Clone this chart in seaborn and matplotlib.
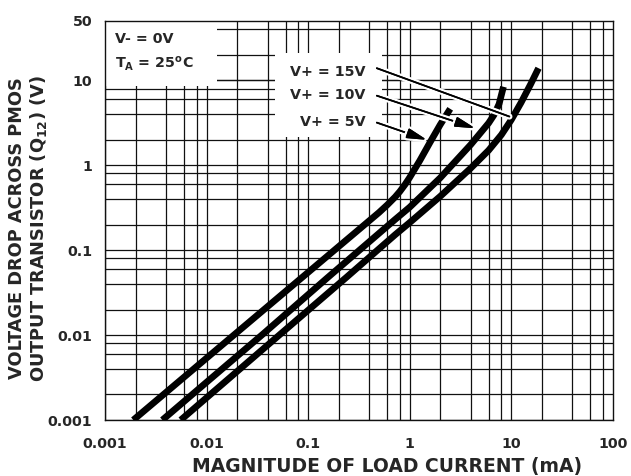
import numpy as np
import pandas as pd
import matplotlib
matplotlib.use("Agg")
import matplotlib.pyplot as plt
import matplotlib.patheffects as pe
import seaborn as sns

# ---- data ----
x_5v = [0.0019, 0.018, 0.16, 0.5, 0.6, 0.72, 0.80, 0.90, 1.0, 1.26, 1.58, 2.0, 2.51]
y_5v = [0.001, 0.0097, 0.088, 0.278, 0.340, 0.423, 0.490, 0.592, 0.716, 1.135, 1.84, 3.0, 4.62]

x_10v = [0.00367, 0.036, 0.153, 0.72, 1.0, 2.0, 4.0, 6.0, 6.8, 7.6, 8.4]
y_10v = [0.001, 0.0103, 0.0467, 0.23, 0.32, 0.71, 1.75, 3.14, 3.94, 5.26, 8.4]

x_15v = [0.00557, 0.0525, 0.24, 0.72, 1.0, 2.0, 4.0, 6.0, 8.0, 10.0, 12.5, 15.5, 18.6]
y_15v = [0.001, 0.0101, 0.0482, 0.152, 0.211, 0.43, 0.925, 1.50, 2.28, 3.41, 5.45, 8.93, 13.9]

series_names = ["V+ = 5V", "V+ = 10V", "V+ = 15V"]

x_ticks = [0.001, 0.01, 0.1, 1, 10, 100]
x_tick_labels = ["0.001", "0.01", "0.1", "1", "10", "100"]
y_ticks = [0.001, 0.01, 0.1, 1, 10, 50]
y_tick_labels = ["0.001", "0.01", "0.1", "1", "10", "50"]
minor_mult = [2, 4, 6, 8]

# label anchor (x, y) and leader line start / tip in data units
label_pos = {"V+ = 15V": (0.365, 12.7), "V+ = 10V": (0.365, 6.7), "V+ = 5V": (0.365, 3.27)}
leader_start = {"V+ = 15V": (0.475, 13.9), "V+ = 10V": (0.475, 6.6), "V+ = 5V": (0.475, 3.18)}
leader_end = {"V+ = 15V": (9.6, 3.75), "V+ = 10V": (4.42, 2.73), "V+ = 5V": (1.48, 1.99)}
leader_style = {"V+ = 15V": "-", "V+ = 10V": "-|>,head_length=1.2,head_width=0.3",
                "V+ = 5V": "-|>,head_length=1.2,head_width=0.3"}

df = pd.concat([
    pd.DataFrame({"I": x_5v, "V": y_5v, "s": series_names[0]}),
    pd.DataFrame({"I": x_10v, "V": y_10v, "s": series_names[1]}),
    pd.DataFrame({"I": x_15v, "V": y_15v, "s": series_names[2]}),
], ignore_index=True)

sns.set_style("white")
plt.rcParams["font.family"] = ["DejaVu Sans"]
plt.rcParams["font.weight"] = "bold"

fig = plt.figure(figsize=(6.31, 4.76), dpi=100)
ax = fig.add_axes([0.1664, 0.1176, 0.8046, 0.8383])
ax.set_xscale("log")
ax.set_yscale("log")
ax.set_xlim(0.001, 100)
ax.set_ylim(0.001, 50)

# grid
grid_kw = dict(color="#111111", lw=0.9, zorder=1)
for d in range(-3, 2):
    for m in [1] + minor_mult:
        ax.axvline(m * 10.0 ** d, **grid_kw)
for d in range(-3, 2):
    for m in [1] + minor_mult:
        v = m * 10.0 ** d
        if v <= 50:
            ax.axhline(v, **grid_kw)
ax.axhline(10, **grid_kw)

# white label boxes that cut the grid
ax.add_patch(plt.Rectangle((0, 0.837), 0.22, 0.163, transform=ax.transAxes,
                           facecolor="white", edgecolor="none", zorder=2))
ax.add_patch(plt.Rectangle((0.335, 0.709), 0.211, 0.211, transform=ax.transAxes,
                           facecolor="white", edgecolor="none", zorder=2))

for name in series_names:
    sub = df[df["s"] == name]
    sns.lineplot(data=sub, x="I", y="V", ax=ax, color="black", lw=4.8,
                 sort=False, estimator=None, legend=False, zorder=4,
                 solid_capstyle="butt")

for name in series_names:
    lx, ly = label_pos[name]
    ax.text(lx, ly, name, ha="right", va="center", fontsize=10.3,
            fontweight="bold", zorder=5)
    ann = ax.annotate("", xy=leader_end[name], xytext=leader_start[name],
                      arrowprops=dict(arrowstyle=leader_style[name],
                                      color="black", lw=1.2, shrinkA=0, shrinkB=0),
                      size=10, zorder=5)
    ann.arrow_patch.set_path_effects([pe.withStroke(linewidth=4.5, foreground="white"),
                                      pe.Normal()])

ax.text(0.02, 0.955, "V- = 0V", transform=ax.transAxes, ha="left", va="center",
        fontsize=10.3, fontweight="bold", zorder=5)
ax.text(0.02, 0.893, r"T$_{\mathbf{A}}$ = 25$^{\mathbf{o}}$C", transform=ax.transAxes,
        ha="left", va="center", fontsize=10.3, fontweight="bold", zorder=5)

ax.set_xticks(x_ticks)
ax.set_xticklabels(x_tick_labels)
ax.set_yticks(y_ticks)
ax.set_yticklabels(y_tick_labels)
ax.minorticks_off()
ax.tick_params(axis="both", length=0, labelsize=10.3)
ax.tick_params(axis="x", pad=12)
ax.tick_params(axis="y", pad=9)
for lab in ax.get_xticklabels() + ax.get_yticklabels():
    lab.set_fontweight("bold")

for sp in ax.spines.values():
    sp.set_color("#111111")
    sp.set_linewidth(1.0)
    sp.set_zorder(3)

ax.set_xlabel("MAGNITUDE OF LOAD CURRENT (mA)", fontsize=13.5, fontweight="bold")
ax.xaxis.set_label_coords(0.555, -0.092)
ax.set_ylabel("VOLTAGE DROP ACROSS PMOS\n" + r"OUTPUT TRANSISTOR (Q$_{\mathbf{12}}$) (V)",
              fontsize=12.8, fontweight="bold", linespacing=1.15)
ax.yaxis.set_label_coords(-0.11, 0.48)

fig.savefig("out.png", dpi=100)
